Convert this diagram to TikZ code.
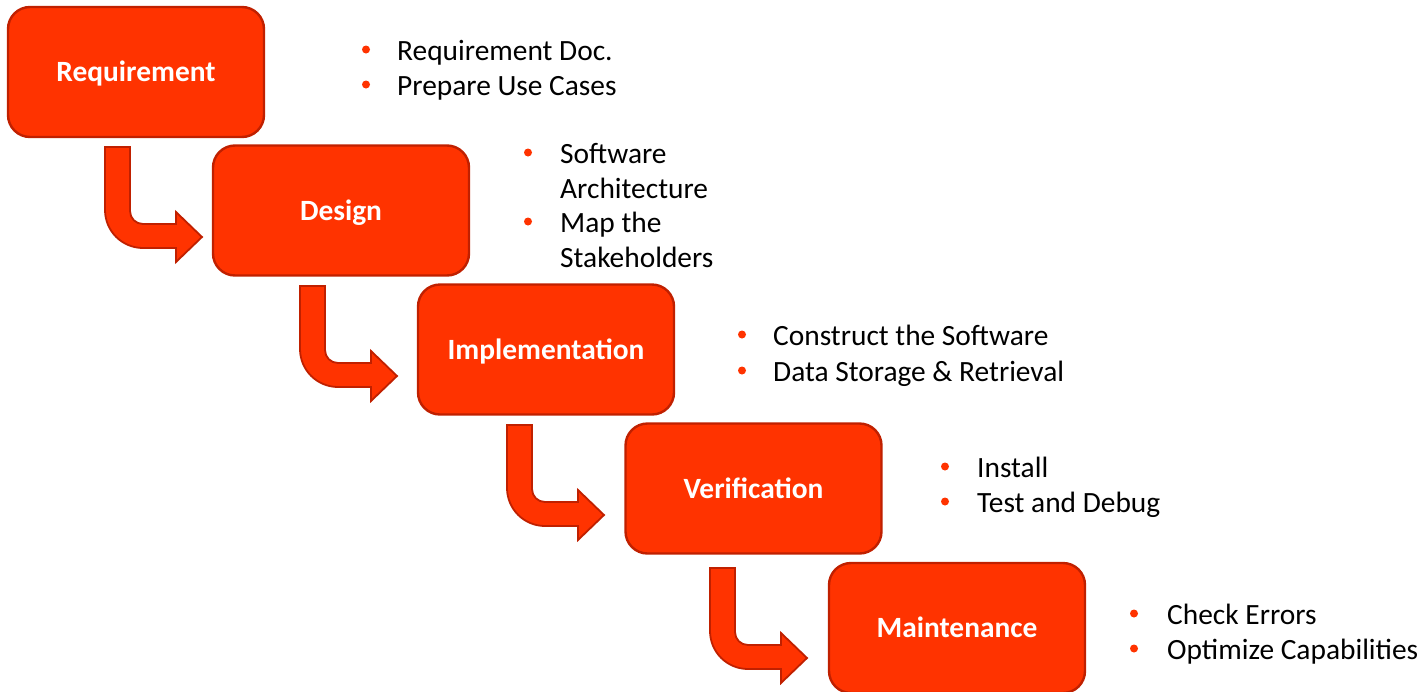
\documentclass[tikz,border=0pt]{standalone}
\usepackage{fontspec}
\setmainfont{Carlito}
\definecolor{stagefill}{HTML}{FF3300}
\definecolor{stageedge}{HTML}{C02000}
\definecolor{dotcol}{HTML}{FF3300}

% bent block arrow, stem top-left corner at the given point
\newcommand\bentarrow[2]{%
  \begin{scope}[shift={(#1,#2)}]
    \draw[flow] (0,0) -- (25,0) -- (25,64)
      .. controls (25,71.2) and (30.8,77) .. (38,77)
      -- (71,77) -- (71,65) -- (97,90) -- (71,115) -- (71,101) -- (38,101)
      .. controls (17,101) and (0,84) .. (0,63) -- cycle;
  \end{scope}}

\begin{document}
\begin{tikzpicture}[x=1pt,y=-1pt,
  stage/.style={draw=stageedge, line width=2.4pt, fill=stagefill,
    rounded corners=22pt, minimum width=256pt, minimum height=130pt,
    text=white, font=\fontsize{29.4}{35}\selectfont\bfseries,
    text height=19pt, text depth=0pt, inner sep=0pt},
  flow/.style={draw=stageedge, line width=1.8pt, fill=stagefill, line join=miter},
  item/.style={anchor=base west, inner sep=0pt, text=black,
    font=\fontsize{29.4}{35}\selectfont},
  bul/.style={circle, fill=dotcol, minimum size=8pt, inner sep=0pt}]
\useasboundingbox (0,0) rectangle (1421,691);

% process stages
\node[stage] (req)  at (136,72)    {Requirement};
\node[stage] (des)  at (341,210.5) {Design};
\node[stage] (imp)  at (546,349.5) {Implementation};
\node[stage] (ver)  at (753.5,488.5) {Verification};
\node[stage] (mnt)  at (957,628)   {Maintenance};

% bent arrows between consecutive stages
\bentarrow{105}{147}
\bentarrow{300}{286}
\bentarrow{507}{425}
\bentarrow{710}{568}

% activities of each stage
\node[bul] (b11) at (366,49.5) {};
\node[item] (t11) at (397,60) {Requirement Doc.};
\node[bul] (b12) at (366,84.5) {};
\node[item] (t12) at (397,95) {Prepare Use Cases};

\node[bul] (b21) at (528,152.5) {};
\node[item] (t21) at (560,163) {Software};
\node[item] (t21b) at (560,198) {Architecture};
\node[bul] (b22) at (528,221.5) {};
\node[item] (t22) at (560,232) {Map the};
\node[item] (t22b) at (560,267) {Stakeholders};

\node[bul] (b31) at (742,334.5) {};
\node[item] (t31) at (773,345) {Construct the Software};
\node[bul] (b32) at (742,370.5) {};
\node[item] (t32) at (773,381) {Data Storage \& Retrieval};

\node[bul] (b41) at (945,466.5) {};
\node[item] (t41) at (977,477) {Install};
\node[bul] (b42) at (945,501.5) {};
\node[item] (t42) at (977,512) {Test and Debug};

\node[bul] (b51) at (1134,613.5) {};
\node[item] (t51) at (1167,624) {Check Errors};
\node[bul] (b52) at (1134,648.5) {};
\node[item] (t52) at (1167,659) {Optimize Capabilities};
\end{tikzpicture}
\end{document}
